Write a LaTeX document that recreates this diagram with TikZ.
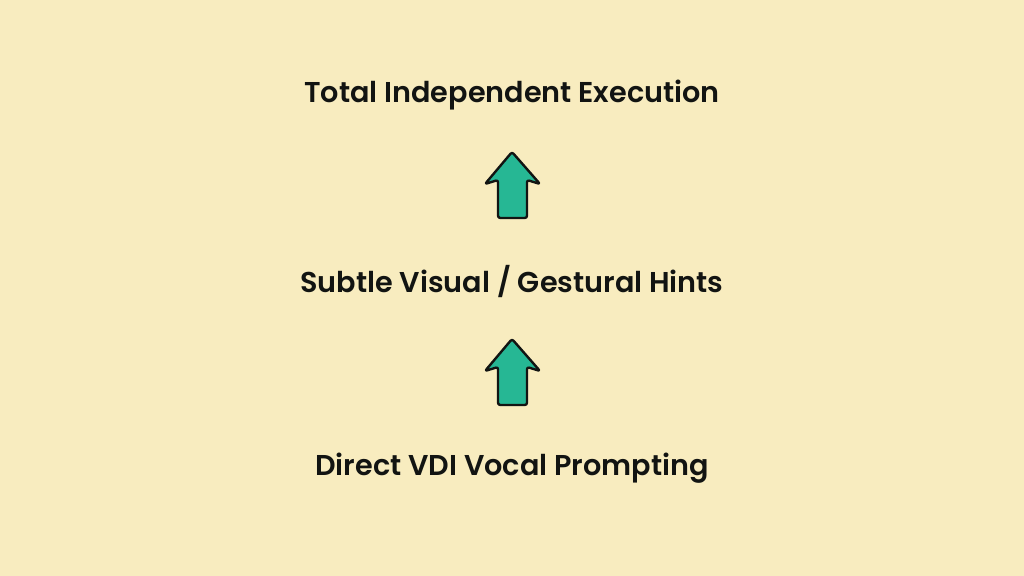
\documentclass[tikz,border=0pt]{standalone}
\usepackage{fontspec}
\setmainfont{Poppins}[UprightFont=* SemiBold]
\usetikzlibrary{calc}
\definecolor{paper}{RGB}{248,236,191}
\definecolor{teal}{RGB}{38,183,148}
\definecolor{ink}{RGB}{18,20,18}
\tikzset{
  steplabel/.style={font=\fontsize{20.4}{24}\selectfont, text=ink, inner sep=0pt},
  uparrow/.style={draw=ink, fill=teal, line width=1.7pt, line join=round, rounded corners=1.6pt}
}
\newcommand{\blockup}[1]{%
  \draw[uparrow, shift={(#1)}] (0,-33) -- (28,-1) -- (15,-5) -- (15,33) -- (-14,33) -- (-14,-5) -- (-27,-1) -- cycle;}

\begin{document}
\begin{tikzpicture}[x=0.025cm, y=-0.025cm]
  \fill[paper] (0,0) rectangle (1024,576);
  \useasboundingbox (0,0) rectangle (1024,576);
  \node[steplabel] (top) at (512, 95) {Total Independent Execution};
  \node[steplabel] (mid) at (512, 282) {Subtle Visual / Gestural Hints};
  \node[steplabel] (bot) at (512, 468) {Direct VDI Vocal Prompting};
  \coordinate (up1) at (512, 185);
  \coordinate (up2) at (512, 372);
  \blockup{up1}
  \blockup{up2}
\end{tikzpicture}
\end{document}
